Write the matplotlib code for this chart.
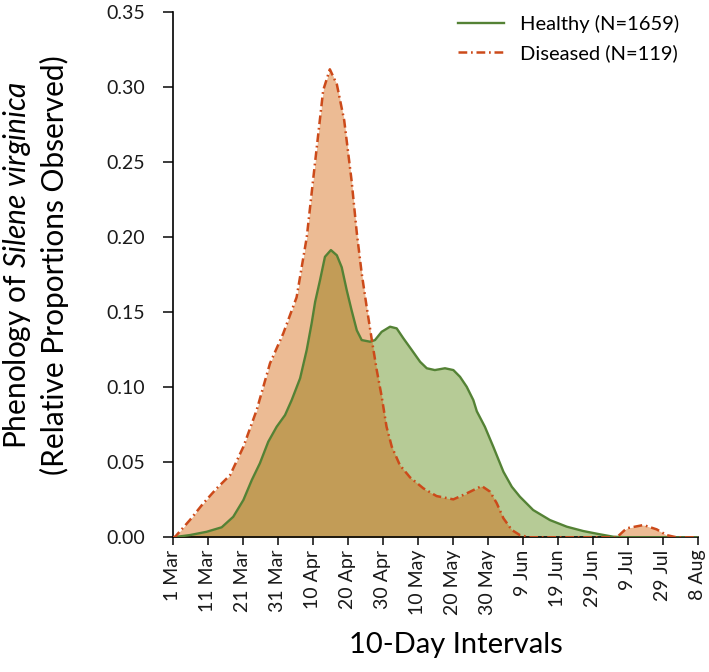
import matplotlib
matplotlib.use("Agg")
import matplotlib.pyplot as plt

plt.rcParams['font.family'] = ['Lato', 'DejaVu Sans']
plt.rcParams['mathtext.fontset'] = 'custom'
plt.rcParams['mathtext.rm'] = 'Lato'
plt.rcParams['mathtext.it'] = 'Lato:italic'

# days since 1 Mar
healthy_days = [0, 4.9, 9.7, 14.0, 17.3, 20.2, 22.6, 24.9, 27.3, 29.7, 32.1, 34.0,
                36.4, 38.3, 39.7, 40.7, 42.1, 43.5, 45.2, 46.9, 48.3, 49.7, 51.1,
                52.6, 54.0, 56.4, 57.8, 59.7, 62.1, 64.0, 65.9, 68.3, 70.7, 72.6,
                74.9, 77.8, 80.2, 82.1, 84.0, 85.9, 86.9, 89.2, 91.6, 94.5, 96.9,
                99.2, 103.0, 107.8, 112.6, 117.3, 122.1, 125.9, 130, 150]
healthy_vals = [0, 0.0015, 0.0037, 0.0067, 0.0137, 0.0249, 0.0382, 0.0493, 0.0637,
                0.0737, 0.0815, 0.0915, 0.106, 0.125, 0.1427, 0.157, 0.1715, 0.187,
                0.1915, 0.188, 0.180, 0.165, 0.1515, 0.138, 0.1315, 0.1304, 0.1315,
                0.137, 0.1404, 0.1393, 0.1327, 0.1249, 0.117, 0.1127, 0.1115, 0.1127,
                0.1115, 0.107, 0.1004, 0.0915, 0.084, 0.0737, 0.0604, 0.0437, 0.0337,
                0.0271, 0.0182, 0.0115, 0.0071, 0.0042, 0.002, 0.0004, 0, 0]

diseased_days = [0, 0.7, 4.9, 8.75, 12.6, 16.4, 20.2, 24.0, 27.8, 31.6, 35.4, 38.3,
                 40.2, 41.6, 43.0, 44.9, 46.9, 49.0, 51.1, 52.6, 54.0, 55.4, 56.9,
                 58.3, 59.7, 61.1, 62.6, 64.9, 67.8, 71.6, 75.4, 80.2, 84.0, 88.3,
                 90.7, 92.6, 94.5, 96.9, 99.2, 102, 126.9, 129.7, 134.5, 138.3,
                 141.1, 144, 150]
diseased_vals = [0, 0.0004, 0.0115, 0.0227, 0.0327, 0.0415, 0.0604, 0.0849, 0.116,
                 0.136, 0.160, 0.200, 0.240, 0.269, 0.298, 0.312, 0.302, 0.278,
                 0.238, 0.203, 0.176, 0.154, 0.1315, 0.1115, 0.094, 0.0737, 0.0604,
                 0.0482, 0.040, 0.0327, 0.0275, 0.0253, 0.0293, 0.0342, 0.0304,
                 0.0227, 0.0127, 0.0049, 0.0015, 0, 0, 0.006, 0.0082, 0.0053,
                 0.0015, 0, 0]

tick_days = list(range(0, 151, 10))
tick_labels = ['1 Mar', '11 Mar', '21 Mar', '31 Mar', '10 Apr', '20 Apr', '30 Apr',
               '10 May', '20 May', '30 May', '9 Jun', '19 Jun', '29 Jun', '9 Jul',
               '29 Jul', '8 Aug']

fig = plt.figure(figsize=(7.09, 6.72), dpi=100)
ax = fig.add_axes([0.2436, 0.2004, 0.7404, 0.7813])

ax.fill_between(healthy_days, healthy_vals, color='#B6CB96', lw=0, zorder=1)
ax.fill_between(diseased_days, diseased_vals, color='#D45D00', alpha=0.42, lw=0, zorder=2)
ax.plot(healthy_days, healthy_vals, color='#548235', lw=1.7, zorder=3,
        label='Healthy (N=1659)')
ax.plot(diseased_days, diseased_vals, color='#CC4A1A', lw=1.8, zorder=4,
        linestyle=(0, (3.5, 1.5, 0.7, 1.5)), label='Diseased (N=119)')

ax.set_xlim(0, 150)
ax.set_ylim(0, 0.35)
ax.set_xticks(tick_days)
ax.set_xticklabels(tick_labels, rotation=90)
ax.set_yticks([0, 0.05, 0.10, 0.15, 0.20, 0.25, 0.30, 0.35])
ax.set_yticklabels(['%.2f' % v for v in ax.get_yticks()])

for s in ['top', 'right']:
    ax.spines[s].set_visible(False)
for s in ['left', 'bottom']:
    ax.spines[s].set_linewidth(1.2)
ax.tick_params(axis='y', length=7, width=1.2, labelsize=14, pad=13, colors='#1a1a1a')
ax.tick_params(axis='x', length=6, width=1.2, labelsize=14, pad=3, colors='#1a1a1a')

ax.set_ylabel('Phenology of $\\mathit{Silene\\ virginica}$\n(Relative Proportions Observed)',
              fontsize=21.5, linespacing=1.3)
ax.yaxis.set_label_coords(-0.197, 0.519)
ax.set_xlabel('10-Day Intervals', fontsize=21)
ax.xaxis.set_label_coords(0.54, -0.18)

ax.legend(loc='upper right', bbox_to_anchor=(1.0, 1.03), frameon=False,
          fontsize=14.5, handlelength=2.3, labelspacing=0.55)

fig.savefig('out.png', dpi=100)
